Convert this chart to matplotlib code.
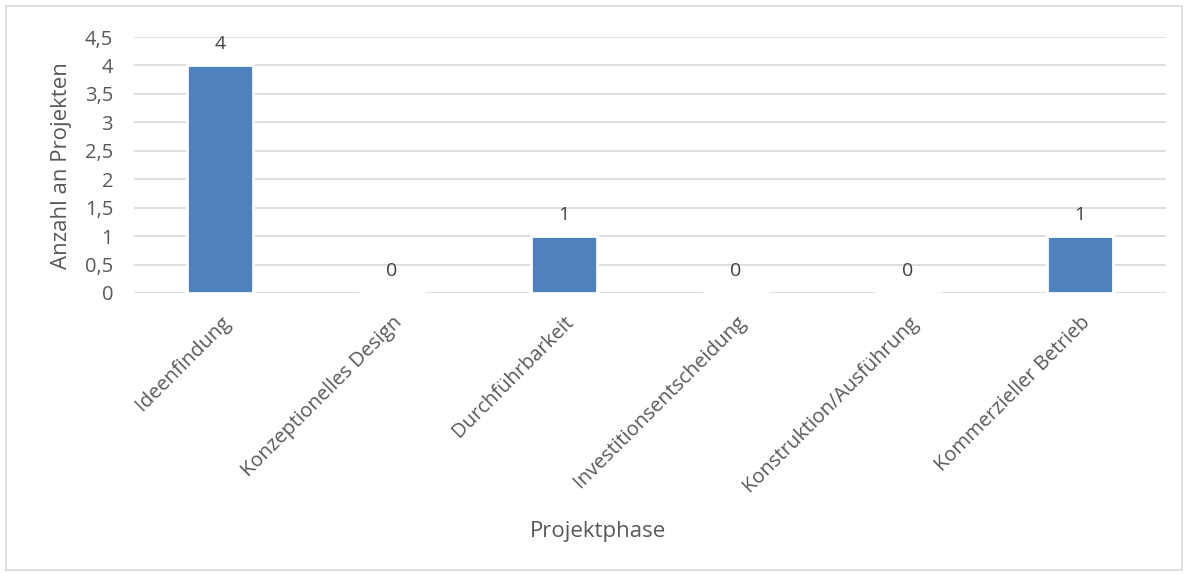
import matplotlib.pyplot as plt
from matplotlib.patches import Rectangle
from matplotlib.ticker import FuncFormatter

phases = ['Ideenfindung', 'Konzeptionelles Design', 'Durchführbarkeit',
          'Investitionsentscheidung', 'Konstruktion/Ausführung', 'Kommerzieller Betrieb']
counts = [4, 0, 1, 0, 0, 1]

plt.rcParams['font.family'] = ['Open Sans', 'DejaVu Sans']

fig = plt.figure(figsize=(11.88, 5.74), dpi=100)
ax = fig.add_axes([134 / 1188, 1 - 293 / 574, (1166 - 134) / 1188, (293 - 37) / 574])

x = range(len(phases))
bars = ax.bar(x, counts, width=0.38, color='#4F81BD', edgecolor='white', linewidth=2, zorder=3)

for i, v in enumerate(counts):
    ax.annotate(str(v), (i, v), xytext=(0, 9), textcoords='offset points',
                ha='center', va='bottom', fontsize=14, color='#404040')

ax.set_xlim(-0.5, len(phases) - 0.5)
ax.set_ylim(0, 4.5)
ax.set_yticks([i * 0.5 for i in range(10)])
ax.yaxis.set_major_formatter(FuncFormatter(lambda v, p: f'{v:g}'.replace('.', ',')))
ax.grid(axis='y', color='#D9D9D9', linewidth=1.2, zorder=0)
for s in ax.spines.values():
    s.set_visible(False)
ax.tick_params(axis='both', length=0, labelsize=14.5, labelcolor='#595959')
ax.tick_params(axis='y', pad=15)

ax.set_xticks(list(x))
ax.set_xticklabels(phases, rotation=45, ha='right', rotation_mode='anchor', fontsize=14.5)
ax.tick_params(axis='x', pad=14)

fig.text(62 / 1188, 1 - 166 / 574, 'Anzahl an Projekten', rotation=90, ha='center',
         va='center', fontsize=16, color='#595959')
fig.text(598 / 1188, 1 - 532 / 574, 'Projektphase', ha='center', va='center',
         fontsize=16, color='#595959')

fig.patches.append(Rectangle((6 / 1188, 4 / 574), 1176 / 1188, 564 / 574,
                             transform=fig.transFigure, fill=False,
                             edgecolor='#D9D9D9', linewidth=1.2))

fig.savefig('out.png', dpi=100)
